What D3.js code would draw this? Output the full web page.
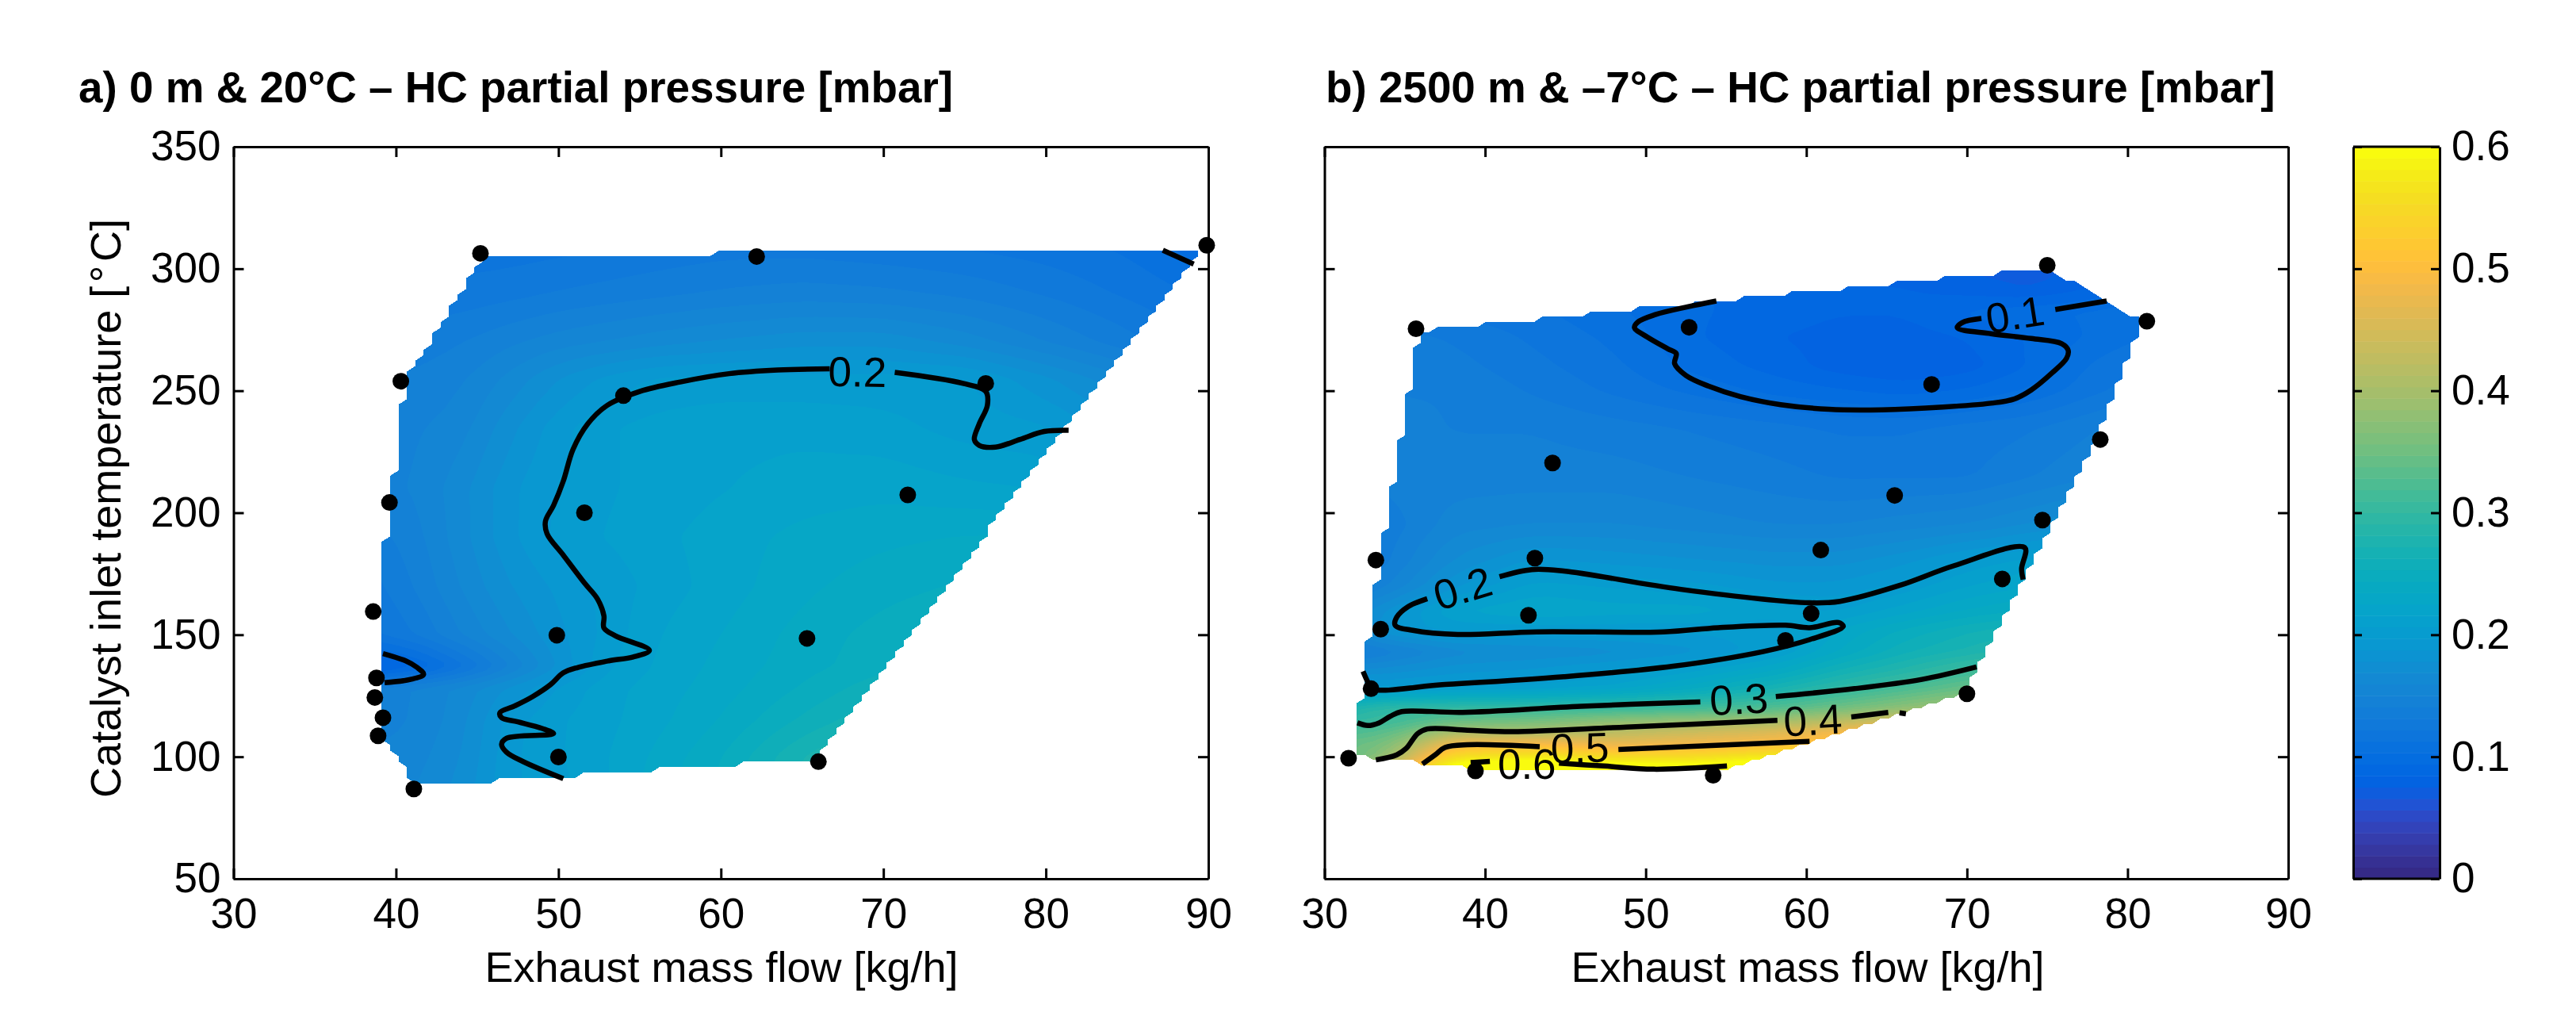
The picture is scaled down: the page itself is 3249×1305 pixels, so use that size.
<!DOCTYPE html>
<html><head><meta charset="utf-8">
<script src="https://cdn.jsdelivr.net/npm/d3@7/dist/d3.min.js"></script>
<style>
html,body{margin:0;padding:0;background:#fff;width:3249px;height:1305px;overflow:hidden}
canvas,svg{position:absolute;left:0;top:0}
text{font-family:"Liberation Sans",Arial,sans-serif;fill:#000}
</style></head><body>
<canvas id="field" width="3249" height="1305"></canvas>
<svg id="chart" width="3249" height="1305"></svg>
<script>
// ---------- data ----------
const xTicks=[30,40,50,60,70,80,90];
const yTicks=[50,100,150,200,250,300,350];
const cTicks=[0,0.1,0.2,0.3,0.4,0.5,0.6];

const ptsAx=[45.2,62.2,89.9,40.3,54,76.3,39.6,51.6,71.5,38.6,49.9,65.3,38.8,38.7,39.2,38.9,50,66,41.1];
const ptsAy=[306.3,305,309.6,253.9,248,253,204.2,200,207.3,159.5,149.8,148.5,132.3,124.3,116,108.6,99.9,98,86.8];
const ptsBx=[75,35.7,52.7,81.2,67.8,78.3,44.2,65.5,74.7,60.9,33.2,43.1,72.2,42.7,60.3,33.5,58.7,32.9,70,31.5,39.4,54.2];
const ptsBy=[301.4,275.4,276,278.5,252.6,230,220.4,207.1,197,184.7,180.6,181.4,172.9,158,158.7,152.3,147.7,127.9,125.8,99.4,94.2,92.4];

const gridAx=[38,41,44,47,50,53,56,60,65,70,75,80,85,90];
const gridAy=[310,290,270,255,235,210,190,170,150,137,128,115,100,87];
const fieldA=[
[.118,.118,.116,.116,.118,.12,.123,.126,.126,.123,.12,.116,.11,.096],
[.125,.125,.125,.128,.132,.135,.138,.142,.145,.143,.138,.13,.12,.11],
[.135,.135,.14,.148,.155,.16,.165,.17,.175,.175,.165,.15,.135,.12],
[.14,.142,.148,.162,.178,.19,.198,.2,.2,.2,.198,.18,.16,.14],
[.145,.148,.155,.175,.193,.205,.21,.213,.213,.21,.202,.198,.18,.16],
[.145,.15,.165,.185,.198,.205,.21,.215,.22,.222,.218,.215,.2,.18],
[.135,.145,.165,.185,.2,.207,.213,.22,.228,.232,.235,.235,.23,.22],
[.125,.14,.16,.178,.19,.2,.21,.22,.232,.24,.245,.25,.25,.25],
[.118,.13,.15,.168,.185,.2,.215,.225,.238,.248,.255,.26,.26,.26],
[.075,.09,.118,.15,.18,.205,.217,.228,.24,.25,.26,.27,.27,.27],
[.14,.15,.162,.18,.198,.212,.22,.23,.245,.26,.272,.28,.28,.28],
[.145,.15,.165,.192,.205,.213,.222,.235,.255,.272,.285,.29,.29,.29],
[.15,.155,.168,.195,.205,.215,.227,.243,.272,.29,.3,.3,.3,.3],
[.15,.158,.172,.195,.203,.215,.23,.246,.275,.295,.3,.3,.3,.3]];

const gridBx=[31,34,38,43,48,53,58,62,66,70,74,78,82];
const gridBy=[305,292,282,272,260,250,235,215,195,180,170,160,152,143,135,128,120,114,110,105,100,96,91];
const fieldB=[
[.085,.085,.085,.085,.085,.085,.08,.08,.075,.07,.065,.08,.09],
[.12,.12,.115,.11,.10,.095,.09,.085,.085,.08,.075,.085,.10],
[.125,.125,.12,.115,.105,.095,.09,.085,.085,.095,.10,.105,.11],
[.135,.135,.13,.12,.11,.095,.085,.08,.08,.085,.095,.105,.115],
[.14,.14,.135,.125,.115,.10,.09,.08,.075,.08,.095,.115,.125],
[.14,.14,.14,.13,.12,.11,.10,.095,.09,.095,.105,.12,.13],
[.145,.145,.14,.14,.135,.13,.125,.12,.12,.125,.13,.14,.15],
[.14,.145,.145,.145,.145,.14,.135,.13,.13,.13,.14,.15,.16],
[.125,.135,.155,.16,.16,.155,.15,.15,.155,.16,.17,.18,.18],
[.12,.14,.17,.19,.185,.18,.175,.175,.185,.2,.21,.21,.21],
[.13,.15,.185,.21,.205,.2,.19,.19,.2,.215,.225,.23,.23],
[.15,.18,.215,.225,.22,.22,.21,.205,.22,.235,.245,.25,.25],
[.15,.19,.2,.2,.2,.2,.2,.225,.245,.26,.27,.275,.275],
[.13,.145,.165,.17,.175,.185,.205,.235,.26,.275,.29,.3,.3],
[.17,.175,.185,.19,.2,.215,.235,.265,.285,.31,.33,.34,.34],
[.2,.2,.205,.21,.22,.24,.27,.295,.32,.345,.36,.37,.37],
[.27,.295,.30,.30,.302,.31,.325,.35,.375,.40,.42,.43,.43],
[.30,.31,.35,.36,.385,.395,.405,.43,.46,.48,.5,.5,.5],
[.32,.335,.405,.405,.42,.44,.46,.49,.52,.54,.55,.55,.55],
[.34,.36,.49,.50,.475,.49,.5,.52,.555,.575,.58,.58,.58],
[.33,.385,.56,.575,.55,.555,.58,.61,.62,.62,.62,.62,.62],
[.36,.43,.62,.635,.62,.61,.63,.63,.63,.63,.63,.63,.63],
[.38,.46,.63,.64,.63,.63,.63,.63,.63,.63,.63,.63,.63]];

// contour level traces, [exhaust mass flow, catalyst inlet temperature]
const contourA1a=[[81.4,233.8],[79.9,233.3],[78.4,230],[76.9,226.9],[75.9,227.6],[75.6,230],[75.9,236.4],[76.4,244],[76.3,249.7],[74.9,253],[70.7,257.5]];
const contourA1b=[[66.7,259],[63.5,258.5],[60.5,257],[57.5,253.6],[55,249.7],[53,244],[51.8,236.4],[50.9,226],[50.3,213],[49.7,203],[49.2,196.5],[49.3,191.4],[50.3,182.6],[51.6,171.2],[52.4,164.7],[52.8,157.7],[52.8,152.8],[53.5,149.6],[55.6,143.6],[54.6,140.9],[53.1,139.3],[51.2,136.6],[50.3,134.4],[49.5,129.5],[48.4,124.6],[47.3,120.8],[46.4,118.1],[46.5,116],[47.5,114.3],[49,111.6],[49.7,109.5],[46.8,107.6],[46.5,105.1],[46.8,101.9],[47.8,98.1],[50.3,91]];
const contourA2=[[39.2,142.3],[40.6,139.3],[41.3,136.6],[41.7,133.8],[40.9,131.7],[39.3,130.4]];
const contourA3=[[87.2,307.6],[89.1,301.9]];

const contourB1a=[[54.4,286.8],[52.6,284.4],[50.6,281.2],[49.5,278.1],[49.3,275.8],[50.1,272],[51.4,267.1],[51.9,265.3],[51.8,261.1],[52.5,256.3],[53.9,251.9],[55.9,247.6],[58.4,244.3],[61.4,242.4],[64.7,242.2],[68.5,243.3],[71.5,244.9],[72.9,246.5],[74,250.3],[75.3,257.3],[76.2,263.3],[76.3,266.6],[75.9,269.3],[74,271.4],[71.5,273.4],[69.4,275.8],[69.7,277.9],[70.9,279.6]];
const contourB1b=[[75.5,283.3],[78.7,286.8]];
const contourB2a=[[32.4,135],[32.7,130.6],[32.95,127.9],[37.5,129.6],[44.9,132.8],[51.7,137.1],[57.3,143.1],[60.2,148],[62.3,153.4],[62,155],[60.2,152.9],[58.7,153.9],[54.5,152.9],[51.1,151.2],[43.2,151.2],[38.3,150.1],[35.5,151.8],[34.4,153.9],[34.5,157.2],[35.2,161.5],[36.4,164.8]];
const contourB2b=[[40.9,173.8],[42.9,176.7],[44.9,176.1],[52.2,168.6],[60.2,163.1],[62.1,163.7],[65.8,170.2],[69.2,178.3],[73.6,185.7],[73.4,177],[73.5,172.6]];
const contourB3a=[[32.05,113.9],[32.7,112.8],[33.4,113.9],[34.1,116.6],[34.8,118.5],[38.6,118.2],[46,120.7],[53.4,122.5]];
const contourB3b=[[58.1,124.7],[63,127.9],[67.2,131.7],[70.6,136.8]];
const contourB4a=[[33.2,98.7],[34.5,100.8],[35.1,103.5],[35.8,109.5],[36.4,111.4],[38.9,110.9],[41.7,110.3],[48.8,112.2],[58.2,114.9]];
const contourB4b=[[62.8,116.3],[65.1,118.2]];
const contourB4c=[[65.8,118],[66.2,117.6]];
const contourB5a=[[36.1,97],[36.9,100.8],[37.5,103.8],[38.9,104.9],[43.4,104.1]];
const contourB5b=[[48.3,103],[60.2,106.3]];
const contourB6a=[[39.1,97.6],[40.3,98.1]];
const contourB6b=[[44.6,97.4],[47.4,96.2],[50.5,94.9],[55.06,96.2]];

const labelsA=[{t:"0.2",x:68.4,y:257.7,r:1}];
const labelsB=[{t:"0.1",x:73,y:281.2,r:-9},{t:"0.2",x:38.6,y:169,r:-17},{t:"0.3",x:55.8,y:123.6,r:-3},{t:"0.4",x:60.4,y:115,r:-3},{t:"0.5",x:45.9,y:103.6,r:-2},{t:"0.6",x:42.6,y:97,r:0}];

// MATLAB parula, 64 levels
const parula=[[.2081,.1663,.5292],[.2116,.1898,.5777],[.2123,.2138,.627],[.2081,.2386,.6771],[.1959,.2645,.7279],[.1707,.2919,.7792],[.1253,.3242,.8303],[.0591,.3598,.8683],[.0117,.3875,.882],[.006,.4086,.8828],[.0165,.4266,.8786],[.0329,.443,.872],[.0498,.4586,.8641],[.0629,.4737,.8554],[.0723,.4887,.8467],[.0779,.504,.8384],[.0793,.52,.8312],[.0749,.5375,.8263],[.0641,.557,.824],[.0488,.5772,.8228],[.0343,.5966,.8199],[.0265,.6137,.8135],[.0239,.6287,.8038],[.0231,.6418,.7913],[.0228,.6535,.7768],[.0267,.6642,.7607],[.0384,.6743,.7436],[.059,.6838,.7254],[.0843,.6928,.7062],[.1133,.7015,.6859],[.1453,.7098,.6646],[.1801,.7177,.6424],[.2178,.725,.6193],[.2586,.7317,.5954],[.3022,.7376,.5712],[.3482,.7424,.5473],[.3953,.7459,.5244],[.442,.7481,.5033],[.4871,.7491,.484],[.53,.7491,.4661],[.5709,.7485,.4494],[.6099,.7473,.4337],[.6473,.7456,.4188],[.6834,.7435,.4044],[.7184,.7411,.3905],[.7525,.7384,.3768],[.7858,.7356,.3633],[.8185,.7327,.3498],[.8507,.7299,.336],[.8824,.7274,.3217],[.9139,.7258,.3063],[.945,.7261,.2886],[.9739,.7314,.2666],[.9938,.7455,.2403],[.999,.7653,.2164],[.9955,.7861,.1967],[.988,.8066,.1794],[.9789,.8271,.1633],[.9697,.8481,.1475],[.9626,.8705,.1309],[.9589,.8949,.1132],[.9598,.9218,.0948],[.9661,.9514,.0755],[.9763,.9831,.0538]];

// ---------- layout ----------
const T=185,B=1108,LW=3,CW=6.5,R=10.5,FS=53,LS=54;
const panels=[
 {L:294.5,Rt:1524,title:"a) 0 m & 20°C – HC partial pressure [mbar]",titleX:99,px:ptsAx,py:ptsAy,gx:gridAx,gy:gridAy,f:fieldA,labels:labelsA,
  contours:[contourA1a,contourA1b,contourA2,contourA3],yLab:true,xLabX:910},
 {L:1670.5,Rt:2886,title:"b) 2500 m & –7°C – HC partial pressure [mbar]",titleX:1672,px:ptsBx,py:ptsBy,gx:gridBx,gy:gridBy,f:fieldB,labels:labelsB,
  contours:[contourB1a,contourB1b,contourB2a,contourB2b,contourB3a,contourB3b,contourB4a,contourB4b,contourB4c,contourB5a,contourB5b,contourB6a,contourB6b],yLab:false,xLabX:2280}
];
const color=d3.scaleQuantize().domain([0,.6]).range(parula.map(c=>d3.rgb(c[0]*255,c[1]*255,c[2]*255)));
const svg=d3.select("#chart");
const ctx=document.getElementById("field").getContext("2d");
const img=ctx.createImageData(3249,1305);
img.data.fill(255);

function bilinear(p,x,y){
  const gx=p.gx,gy=p.gy;
  let i=Math.min(Math.max(d3.bisectRight(gx,x)-1,0),gx.length-2);
  let j=0; while(j<gy.length-2&&y<gy[j+1])j++;
  const tx=Math.min(Math.max((x-gx[i])/(gx[i+1]-gx[i]),0),1);
  const ty=Math.min(Math.max((y-gy[j])/(gy[j+1]-gy[j]),0),1);
  const a=p.f[j][i]*(1-tx)+p.f[j][i+1]*tx;
  const b=p.f[j+1][i]*(1-tx)+p.f[j+1][i+1]*tx;
  return a*(1-ty)+b*ty;
}
// shading read: softens the kinks of the coarse control grid
function sample(p,x,y){
  let s=0;
  for(const ox of [-0.9,0,0.9]) for(const oy of [-1.5,0,1.5]) s+=bilinear(p,x+ox,y+oy);
  return s/9;
}
const styleAxis=s=>{s.select(".domain").attr("stroke","#000").attr("stroke-width",LW);
  s.selectAll(".tick line").attr("stroke","#000").attr("stroke-width",LW);
  s.selectAll("text").attr("font-size",FS).attr("font-family",'"Liberation Sans",Arial,sans-serif').attr("fill","#000");};

panels.forEach(p=>{
  const x=d3.scaleLinear().domain([30,90]).range([p.L,p.Rt]);
  const y=d3.scaleLinear().domain([50,350]).range([B,T]);
  // field, masked to the measured hull on a 100x100 mesh (triangles where one corner is missing)
  const pts=p.px.map((v,i)=>[v,p.py[i]]);
  const hull=d3.polygonHull(pts);
  const [x0,x1]=d3.extent(p.px),[y0,y1]=d3.extent(p.py);
  const N=99,dx=(x1-x0)/N,dy=(y1-y0)/N;
  const memo=new Map();
  const inside=(i,j)=>{const k=i*1000+j;if(memo.has(k))return memo.get(k);
    const v=d3.polygonContains(hull,[x0+i*dx,y0+j*dy]);memo.set(k,v);return v};
  const shown=(i,j,u,v)=>{
    const a=inside(i,j),b=inside(i+1,j),c=inside(i,j+1),d=inside(i+1,j+1);
    const n=a+b+c+d;
    if(n===4)return true;
    if(n<3)return false;
    if(!d)return u+v<=1;
    if(!a)return u+v>=1;
    if(!b)return u<=v;
    return u>=v;
  };
  for(let py=Math.floor(y(y1));py<=Math.ceil(y(y0));py++){
    for(let px=Math.floor(x(x0));px<=Math.ceil(x(x1));px++){
      const vx=x.invert(px+.5),vy=y.invert(py+.5);
      const fi=(vx-x0)/dx,fj=(vy-y0)/dy;
      const i=Math.floor(fi),j=Math.floor(fj);
      if(i<0||j<0||i>=N||j>=N||!shown(i,j,fi-i,fj-j))continue;
      const c=color(sample(p,vx,vy));
      const o=(py*3249+px)*4;
      img.data[o]=c.r;img.data[o+1]=c.g;img.data[o+2]=c.b;img.data[o+3]=255;
    }
  }
  const g=svg.append("g");
  const line=d3.line().x(d=>x(d[0])).y(d=>y(d[1])).curve(d3.curveCatmullRom.alpha(.5));
  g.selectAll("path.contour").data(p.contours).join("path").attr("class","contour")
    .attr("d",line).attr("fill","none").attr("stroke","#000").attr("stroke-width",CW)
    .attr("stroke-linejoin","round").attr("stroke-linecap","butt");
  g.selectAll("text.clabel").data(p.labels).join("text").attr("class","clabel")
    .attr("transform",d=>`translate(${x(d.x)},${y(d.y)}) rotate(${d.r})`)
    .attr("text-anchor","middle").attr("dominant-baseline","central")
    .attr("font-size",FS).text(d=>d.t);
  g.selectAll("circle").data(pts).join("circle")
    .attr("cx",d=>x(d[0])).attr("cy",d=>y(d[1])).attr("r",R).attr("fill","#000");
  const fmtY=p.yLab?d3.format("d"):()=>"";
  const tick=13;
  g.append("g").attr("transform",`translate(0,${B})`)
    .call(d3.axisBottom(x).tickValues(xTicks).tickFormat(d3.format("d")).tickSizeInner(-tick).tickSizeOuter(0).tickPadding(24)).call(styleAxis);
  g.append("g").attr("transform",`translate(0,${T})`)
    .call(d3.axisTop(x).tickValues(xTicks).tickFormat("").tickSizeInner(-tick).tickSizeOuter(0)).call(styleAxis);
  g.append("g").attr("transform",`translate(${p.L},0)`)
    .call(d3.axisLeft(y).tickValues(yTicks).tickFormat(fmtY).tickSizeInner(-tick).tickSizeOuter(0).tickPadding(16)).call(styleAxis);
  g.append("g").attr("transform",`translate(${p.Rt},0)`)
    .call(d3.axisRight(y).tickValues(yTicks).tickFormat("").tickSizeInner(-tick).tickSizeOuter(0)).call(styleAxis);
  g.append("text").attr("x",p.titleX).attr("y",129).attr("font-size",54.8).attr("font-weight","bold").text(p.title);
  g.append("text").attr("x",p.xLabX).attr("y",1238).attr("text-anchor","middle").attr("font-size",LS).text("Exhaust mass flow [kg/h]");
  if(p.yLab) g.append("text").attr("transform","translate(152,641) rotate(-90)").attr("text-anchor","middle").attr("font-size",LS).text("Catalyst inlet temperature [\u200a°\u200aC]");
});
ctx.putImageData(img,0,0);

// colourbar
const cb={L:2968,Rt:3077};
const cy=d3.scaleLinear().domain([0,.6]).range([B,T]);
const cg=svg.append("g");
cg.selectAll("rect").data(color.range()).join("rect")
  .attr("x",cb.L).attr("width",cb.Rt-cb.L)
  .attr("y",d=>cy(color.invertExtent(d)[1]))
  .attr("height",d=>cy(color.invertExtent(d)[0])-cy(color.invertExtent(d)[1])+.5)
  .attr("fill",d=>d.formatRgb());
cg.append("g").attr("transform",`translate(${cb.Rt},0)`)
  .call(d3.axisRight(cy).tickValues(cTicks).tickFormat(d=>d===0?"0":d3.format(".1f")(d)).tickSizeInner(-11).tickSizeOuter(0).tickPadding(15))
  .call(styleAxis);
cg.append("g").attr("transform",`translate(${cb.L},0)`)
  .call(d3.axisLeft(cy).tickValues(cTicks).tickFormat("").tickSizeInner(-11).tickSizeOuter(0))
  .call(styleAxis);
cg.append("g").selectAll("line").data([T,B]).join("line")
  .attr("x1",cb.L).attr("x2",cb.Rt).attr("y1",d=>d).attr("y2",d=>d).attr("stroke","#000").attr("stroke-width",LW);
</script></body></html>
